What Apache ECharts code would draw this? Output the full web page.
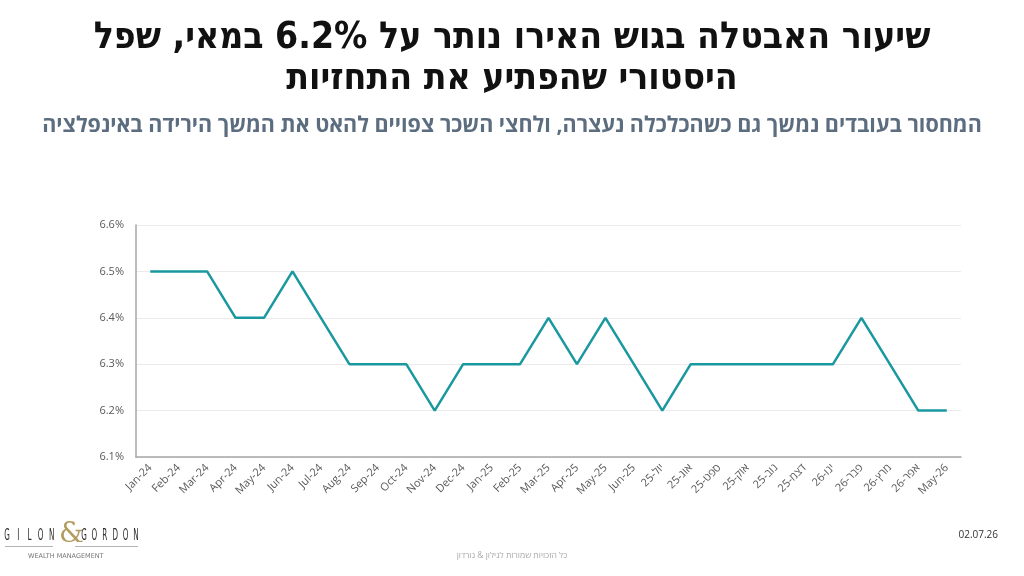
<!DOCTYPE html>
<html>
<head>
<meta charset="utf-8">
<script src="https://cdn.jsdelivr.net/npm/echarts@6/dist/echarts.min.js"></script>
<style>
html,body{margin:0;padding:0;background:#fff;}
#c{width:1024px;height:576px;}
</style>
</head>
<body>
<div id="c"></div>
<script>
const categories = ["Jan-24","Feb-24","Mar-24","Apr-24","May-24","Jun-24","Jul-24","Aug-24","Sep-24","Oct-24","Nov-24","Dec-24","Jan-25","Feb-25","Mar-25","Apr-25","May-25","Jun-25","יול-25","אוג-25","ספט-25","אוק-25","נוב-25","דצמ-25","ינו-26","פבר-26","מרץ-26","אפר-26","May-26"];
const unemployment = [6.5,6.5,6.5,6.4,6.4,6.5,6.4,6.3,6.3,6.3,6.2,6.3,6.3,6.3,6.4,6.3,6.4,6.3,6.2,6.3,6.3,6.3,6.3,6.3,6.3,6.4,6.3,6.2,6.2];
const yTicks = {min:6.1, max:6.6, interval:0.1};
const titleText = "שיעור האבטלה בגוש האירו נותר על 6.2% במאי, שפל\nהיסטורי שהפתיע את התחזיות";
const subtitleText = "המחסור בעובדים נמשך גם כשהכלכלה נעצרה, ולחצי השכר צפויים להאט את המשך הירידה באינפלציה";
const footerText = "כל הזכויות שמורות לגילון & גורדון";
const dateText = "02.07.26";
const logoLeft = "GILON";
const logoRight = "GORDON";

const chart = echarts.init(document.getElementById('c'));
const FONT = "'Open Sans','Liberation Sans','DejaVu Sans',sans-serif";
const LOGO = "'DejaVu Sans Condensed','Liberation Sans Narrow',sans-serif";

const logoEls = [];
function addLetters(word, x0, step){
  word.split('').forEach((ch,i)=>{
    logoEls.push({type:'text',x:x0+i*step,y:528,scaleX:0.5,scaleY:1,
      style:{text:ch,font:"16px "+LOGO,fill:'#2b2b2b',align:'center',verticalAlign:'top'}});
  });
}
addLetters(logoLeft,7,11.2);
addLetters(logoRight,84,10.4);

chart.setOption({
  backgroundColor:'#fff',
  animation:false,
  title:[
    {text:titleText,left:'center',top:13,textStyle:{fontFamily:"'Liberation Sans Narrow','DejaVu Sans Condensed','Liberation Sans',sans-serif",fontWeight:'bold',fontSize:37,lineHeight:41,color:'#111'}},
    {text:subtitleText,left:'center',top:110,padding:[5,22,5,5],textStyle:{fontFamily:FONT,fontWeight:'bold',fontSize:21.5,color:'#5d6d80'}}
  ],
  grid:{left:136,right:63,top:225,bottom:119,containLabel:false},
  xAxis:{
    type:'category',data:categories,boundaryGap:true,
    axisLine:{show:true,lineStyle:{color:'#a6a6a6',width:1.5}},
    axisTick:{show:false},
    axisLabel:{rotate:45,fontSize:11,color:'#595959',fontFamily:FONT,interval:0,margin:9}
  },
  yAxis:{
    type:'value',min:yTicks.min,max:yTicks.max,interval:yTicks.interval,
    axisLine:{show:true,lineStyle:{color:'#a6a6a6',width:1.5}},
    axisTick:{show:false},
    splitLine:{lineStyle:{color:'#ebebeb',width:1}},
    axisLabel:{fontSize:11,color:'#595959',fontFamily:FONT,margin:12,formatter:v=>v.toFixed(1)+'%'}
  },
  series:[{type:'line',data:unemployment,symbol:'none',lineStyle:{color:'#1a98a0',width:2.5},itemStyle:{color:'#1a98a0'}}],
  graphic:logoEls.concat([
    {type:'text',x:59,y:521,style:{text:'&',font:"28px 'DejaVu Serif',serif",fill:'#b39c5f'}},
    {type:'rect',shape:{x:5,y:546,width:48,height:0.8},style:{fill:'#9a9a9a'}},
    {type:'rect',shape:{x:75,y:546,width:63,height:0.8},style:{fill:'#9a9a9a'}},
    {type:'text',x:28,y:553,style:{text:'WEALTH MANAGEMENT',font:"6.5px 'DejaVu Sans',sans-serif",fill:'#777'}},
    {type:'text',left:'center',top:551,style:{text:footerText,font:"8.5px "+FONT,fill:'#aaa'}},
    {type:'text',right:26,top:530,style:{text:dateText,font:"10px "+FONT,fill:'#333'}}
  ])
});
</script>
</body>
</html>
